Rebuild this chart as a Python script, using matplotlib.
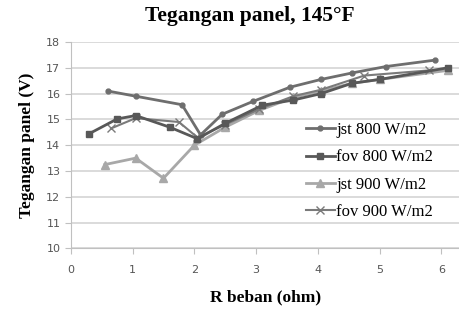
import matplotlib
matplotlib.use("Agg")
import matplotlib.pyplot as plt

# ---------------- data ----------------
x_jst800 = [0.6, 1.05, 1.8, 2.1, 2.45, 2.95, 3.55, 4.05, 4.55, 5.1, 5.9]
y_jst800 = [16.1, 15.9, 15.57, 14.4, 15.2, 15.7, 16.25, 16.55, 16.8, 17.05, 17.3]

x_fov800 = [0.3, 0.75, 1.05, 1.6, 2.05, 2.5, 3.1, 3.6, 4.05, 4.55, 5.0, 6.1]
y_fov800 = [14.45, 15.02, 15.15, 14.7, 14.25, 14.85, 15.55, 15.75, 16.0, 16.4, 16.55, 17.0]

x_jst900 = [0.55, 1.05, 1.5, 2.0, 2.5, 3.05, 3.6, 4.05, 4.55, 5.0, 6.1]
y_jst900 = [13.25, 13.5, 12.72, 14.0, 14.7, 15.35, 15.85, 16.1, 16.4, 16.55, 16.9]

x_fov900 = [0.65, 1.05, 1.75, 2.05, 2.5, 3.05, 3.6, 4.05, 4.75, 5.8]
y_fov900 = [14.65, 15.05, 14.9, 14.3, 14.8, 15.4, 15.9, 16.15, 16.7, 16.9]

labels = ['jst 800 W/m2', 'fov 800 W/m2', 'jst 900 W/m2', 'fov 900 W/m2']
xticks = [0, 1, 2, 3, 4, 5, 6]
yticks = [10, 11, 12, 13, 14, 15, 16, 17, 18]

serif = ['Liberation Serif', 'DejaVu Serif']

fig = plt.figure(figsize=(4.6, 3.09), dpi=100)
ax = fig.add_axes([0.154, 0.196, 0.846, 0.668])

# ---------------- series ----------------
ax.plot(x_jst800, y_jst800, color='#6e6e6e', lw=2, marker='o', ms=3.5, label=labels[0], zorder=4)
ax.plot(x_fov800, y_fov800, color='#585858', lw=2, marker='s', ms=4, label=labels[1], zorder=4)
ax.plot(x_jst900, y_jst900, color='#a8a8a8', lw=2, marker='^', ms=6, label=labels[2], zorder=3)
ax.plot(x_fov900, y_fov900, color='#7a7a7a', lw=1.5, marker='x', ms=6, mew=1, label=labels[3], zorder=3)

# ---------------- axes ----------------
ax.set_xlim(0, 6.3)
ax.set_ylim(10, 18)
ax.set_xticks(xticks)
ax.set_yticks(yticks)
ax.grid(axis='y', color='#d4d4d4', lw=1.2)
ax.set_axisbelow(True)
for s in ['top', 'right']:
    ax.spines[s].set_visible(False)
for s in ['left', 'bottom']:
    ax.spines[s].set_color('#c0c0c0')
ax.tick_params(colors='#c0c0c0', labelcolor='#555555', labelsize=8, length=4)
ax.tick_params(axis='x', pad=8)

# title is centred on the whole chart, not on the plot area
fig.text(250 / 460, 1 - 16 / 309, 'Tegangan panel, 145°F', family=serif, fontsize=15.5,
         fontweight='bold', ha='center', va='center')
ax.set_xlabel('R beban (ohm)', family=serif, fontsize=12.5, fontweight='bold', labelpad=10)
ax.set_ylabel('Tegangan panel (V)', family=serif, fontsize=12.5, fontweight='bold', labelpad=8)

ax.legend(loc='center left', bbox_to_anchor=(0.605, 0.375), frameon=False,
          prop={'family': serif, 'size': 12}, handlelength=1.7, handletextpad=0.1,
          labelspacing=0.68, borderaxespad=0, borderpad=0)

fig.savefig('out.png', dpi=100)
